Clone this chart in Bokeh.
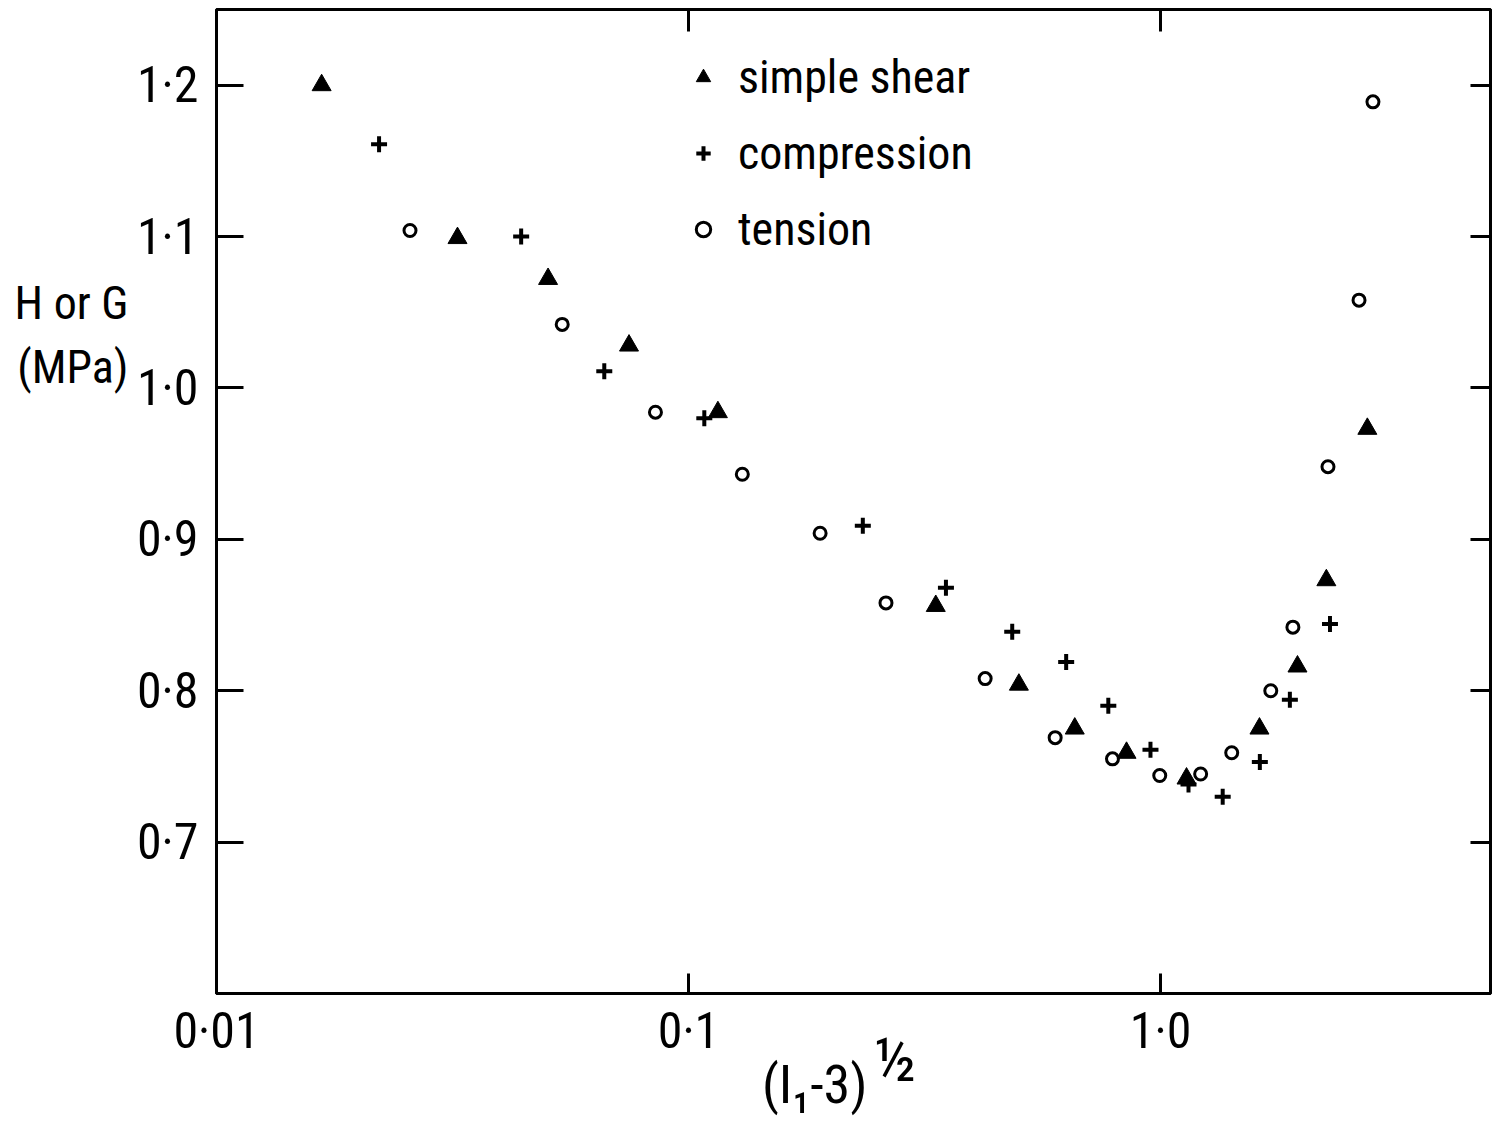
from bokeh.plotting import figure
from bokeh.models import (LogAxis, LinearAxis, FixedTicker, Legend, LegendItem)
from bokeh.embed import file_html
from bokeh.resources import INLINE

FONT = "Roboto Condensed"

# ---- data ----
shear_x = [0.0167, 0.0324, 0.0504, 0.0748, 0.1154, 0.334, 0.501, 0.658, 0.847, 1.135, 1.62, 1.95, 2.245, 2.742]
shear_y = [1.200, 1.099, 1.072, 1.028, 0.984, 0.856, 0.804, 0.775, 0.759, 0.742, 0.775, 0.816, 0.873, 0.973]

comp_x = [0.0221, 0.0442, 0.0663, 0.108, 0.234, 0.351, 0.485, 0.631, 0.775, 0.952, 1.146, 1.354, 1.623, 1.879, 2.285]
comp_y = [1.161, 1.100, 1.011, 0.980, 0.909, 0.868, 0.839, 0.819, 0.790, 0.761, 0.738, 0.730, 0.753, 0.794, 0.844]

tens_x = [0.0257, 0.054, 0.0851, 0.130, 0.190, 0.262, 0.425, 0.598, 0.791, 0.996, 1.216, 1.415, 1.712, 1.907, 2.263, 2.633, 2.818]
tens_y = [1.104, 1.042, 0.984, 0.943, 0.904, 0.858, 0.808, 0.769, 0.755, 0.744, 0.745, 0.759, 0.800, 0.842, 0.948, 1.058, 1.189]

series_labels = ["simple shear", "compression", "tension"]

x_ticks = [0.01, 0.1, 1.0]
x_tick_labels = ["0·01", "0·1", "1·0"]
y_ticks = [0.7, 0.8, 0.9, 1.0, 1.1, 1.2]
y_tick_labels = ["0·7", "0·8", "0·9", "1·0", "1·1", "1·2"]

y_title_lines = ["H or G", "(MPa)"]
x_title_main = "(I₁-3)"
x_title_power = "½"

p = figure(width=1498, height=1136, x_axis_type="log",
           x_range=(0.01, 5.0), y_range=(0.6, 1.25),
           output_backend="svg", toolbar_location=None,
           min_border_left=216, min_border_right=8,
           min_border_top=9, min_border_bottom=143)
p.background_fill_color = "white"
p.border_fill_color = "white"
p.outline_line_color = "black"
p.outline_line_width = 3
p.xgrid.visible = False
p.ygrid.visible = False

def style_axis(ax, ticks, labels, tick_in, show_labels=True, size="50px", standoff=18):
    ax.ticker = FixedTicker(ticks=ticks, minor_ticks=[])
    ax.major_label_overrides = {t: (l if show_labels else "") for t, l in zip(ticks, labels)}
    ax.major_tick_in = tick_in
    ax.major_tick_out = 0
    ax.minor_tick_in = 0
    ax.minor_tick_out = 0
    ax.axis_line_width = 3
    ax.axis_line_color = "black"
    ax.major_tick_line_width = 3
    ax.major_tick_line_color = "black"
    ax.major_label_text_font = FONT
    ax.major_label_text_font_size = size if show_labels else "1px"
    ax.major_label_text_color = "black"
    ax.major_label_standoff = standoff if show_labels else 0

style_axis(p.xaxis[0], x_ticks, x_tick_labels, 20, standoff=8)
style_axis(p.yaxis[0], y_ticks, y_tick_labels, 27, standoff=18)

top = LogAxis()
style_axis(top, x_ticks[1:], x_tick_labels[1:], 22, show_labels=False)
p.add_layout(top, "above")
right = LinearAxis()
style_axis(right, y_ticks, y_tick_labels, 20, show_labels=False)
p.add_layout(right, "right")

def title_axis(ax, pos, labels, size, standoff):
    ax.ticker = FixedTicker(ticks=pos, minor_ticks=[])
    ax.major_label_overrides = dict(zip(pos, labels))
    ax.axis_line_color = None
    ax.major_tick_line_color = None
    ax.major_tick_in = 0
    ax.major_tick_out = 0
    ax.minor_tick_in = 0
    ax.minor_tick_out = 0
    ax.major_label_text_font = FONT
    ax.major_label_text_font_size = size
    ax.major_label_text_color = "black"
    ax.major_label_standoff = standoff

# y title: horizontal two-line text left of the tick labels
ytitle = LinearAxis()
title_axis(ytitle, [1.056, 1.014], y_title_lines, "46px", 5)
p.add_layout(ytitle, "left")

# x title: superscript part, then main part
xpow = LogAxis()
title_axis(xpow, [0.2745], [x_title_power], "62px", -40)
p.add_layout(xpow, "below")
xmain = LogAxis()
title_axis(xmain, [0.185], [x_title_main], "54px", -46)
p.add_layout(xmain, "below")

r1 = p.scatter(shear_x, shear_y, marker="triangle", size=19,
               fill_color="black", line_color="black", line_width=1)
r2 = p.scatter(comp_x, comp_y, marker="cross", size=16,
               line_color="black", line_width=4)
r3 = p.scatter(tens_x, tens_y, marker="circle", size=12,
               fill_color=None, line_color="black", line_width=3)

legend = Legend(items=[LegendItem(label=series_labels[0], renderers=[r1]),
                       LegendItem(label=series_labels[1], renderers=[r2]),
                       LegendItem(label=series_labels[2], renderers=[r3])],
                location=(469, 726), border_line_color=None,
                background_fill_alpha=0, padding=0, margin=0, spacing=0,
                label_standoff=17, glyph_width=36, glyph_height=36,
                label_height=76, label_text_font=FONT,
                label_text_font_size="46px", label_text_color="black")
p.add_layout(legend)

open("out.html", "w").write(file_html(p, INLINE))
